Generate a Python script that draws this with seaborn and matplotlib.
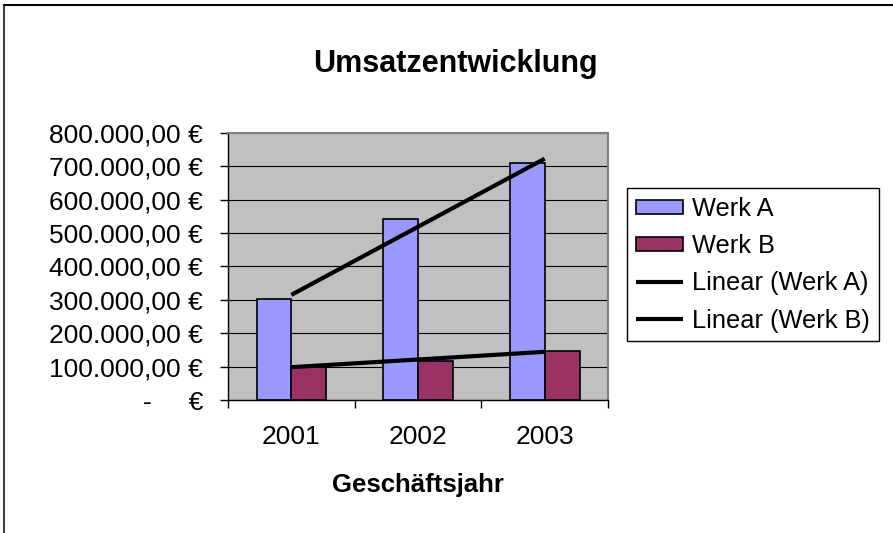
import numpy as np
import pandas as pd
import seaborn as sns
import matplotlib.pyplot as plt
from matplotlib.lines import Line2D
from matplotlib.patches import Patch

# values
jahre = ['2001', '2002', '2003']
werk_a = [303000, 543000, 711000]
werk_b = [100000, 118000, 146000]
werke = ['Werk A', 'Werk B']
farben = ['#9999FF', '#993366']
trend_labels = ['Linear (Werk A)', 'Linear (Werk B)']
y_ticks = [0, 100000, 200000, 300000, 400000, 500000, 600000, 700000, 800000]
y_labels = ['-     €', '100.000,00 €', '200.000,00 €', '300.000,00 €', '400.000,00 €',
            '500.000,00 €', '600.000,00 €', '700.000,00 €', '800.000,00 €']

sns.set_style('white')
plt.rcParams['font.family'] = ['Liberation Sans', 'DejaVu Sans']
plt.rcParams['text.color'] = 'black'
plt.rcParams['xtick.color'] = 'black'
plt.rcParams['ytick.color'] = 'black'
plt.rcParams['xtick.labelcolor'] = 'black'
plt.rcParams['ytick.labelcolor'] = 'black'

df = pd.DataFrame({'Jahr': jahre * 2,
                   'Werk': [werke[0]] * 3 + [werke[1]] * 3,
                   'Umsatz': werk_a + werk_b})

fig = plt.figure(figsize=(8.93, 5.33), dpi=100)
ax = fig.add_axes([228 / 893, 133 / 533, 380 / 893, 267 / 533])
ax.set_facecolor('#C0C0C0')

sns.barplot(data=df, x='Jahr', y='Umsatz', hue='Werk', palette=farben,
            width=0.55, edgecolor='black', linewidth=1.2, saturation=1,
            errorbar=None, legend=False, ax=ax)

# linear trend lines like Excel
xs = np.arange(len(jahre))
for vals, lab in zip([werk_a, werk_b], trend_labels):
    sns.regplot(x=xs, y=np.array(vals), scatter=False, ci=None, truncate=True,
                color='black', line_kws={'lw': 3, 'solid_capstyle': 'butt'},
                label=lab, ax=ax)

ax.set_xlim(-0.5, 2.5)
ax.set_ylim(0, 800000)
ax.set_yticks(y_ticks)
ax.set_yticklabels(y_labels, fontsize=19)
ax.set_xticks(xs)
ax.set_xticklabels(jahre, fontsize=19)
ax.set_xticks([-0.5, 0.5, 1.5, 2.5], minor=True)
ax.set_xlabel('')
ax.set_ylabel('')
ax.tick_params(axis='x', which='major', length=0, pad=18)
ax.tick_params(axis='x', which='minor', length=6, width=1, color='black', direction='out', bottom=True)
ax.tick_params(axis='y', length=6, width=1, color='black', direction='out', pad=12, left=True)

ax.yaxis.grid(True, color='black', lw=0.8)
ax.xaxis.grid(False)
ax.set_axisbelow(True)
for s in ['left', 'bottom']:
    ax.spines[s].set_color('black')
    ax.spines[s].set_linewidth(1)
for s in ['top', 'right']:
    ax.spines[s].set_color('#808080')
    ax.spines[s].set_linewidth(1.5)

handles = [Patch(facecolor=c, edgecolor='black', lw=1.2) for c in farben]
handles += [l for l in ax.lines if l.get_label() in trend_labels]
leg = ax.legend(handles, werke + trend_labels, loc='upper left',
                bbox_to_anchor=(627 / 893, 1 - 188 / 533), bbox_transform=fig.transFigure,
                borderaxespad=0, frameon=True, fancybox=False, edgecolor='black',
                facecolor='white', framealpha=1, fontsize=18.3, handlelength=1.85,
                handleheight=0.5, handletextpad=0.35, labelspacing=0.52, borderpad=0.35)
leg.get_frame().set_linewidth(1)

fig.text(455 / 893, 1 - 72 / 533, 'Umsatzentwicklung', ha='center', va='baseline',
         fontsize=22, fontweight='bold')
fig.text(418 / 893, 1 - 492 / 533, 'Geschäftsjahr', ha='center', va='baseline',
         fontsize=18.5, fontweight='bold')

# chart border (left and top only visible)
fig.add_artist(Line2D([4 / 893, 4 / 893], [0, 1 - 5 / 533], transform=fig.transFigure,
                      color='#404040', lw=1.5))
fig.add_artist(Line2D([4 / 893, 1], [1 - 5 / 533, 1 - 5 / 533], transform=fig.transFigure,
                      color='black', lw=1.5))

fig.savefig('out.png', dpi=100)
